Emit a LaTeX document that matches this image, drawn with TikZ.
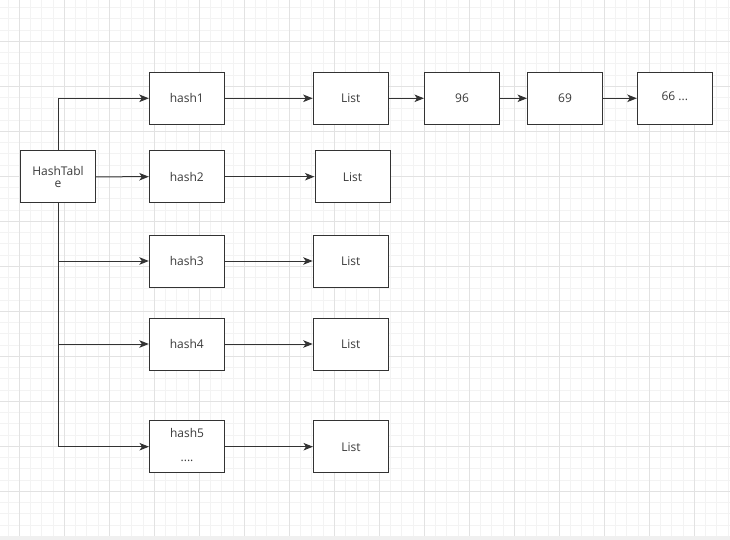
\documentclass[tikz,border=0pt]{standalone}
\usepackage{fontspec}
\setmainfont{Open Sans}
\usetikzlibrary{arrows.meta}
\definecolor{ink}{HTML}{333333}
\definecolor{txt}{HTML}{3A3A3A}
\definecolor{gridminor}{HTML}{F3F3F3}
\definecolor{gridmajor}{HTML}{E2E2E2}
\definecolor{strip}{HTML}{F0F0F0}
\tikzset{
  box/.style={draw=ink, line width=1pt, fill=white, minimum width=75pt, minimum height=52pt, inner sep=0pt, text=txt, font=\fontsize{12}{14}\selectfont, align=center},
  conn/.style={draw=ink, line width=1pt, -{Stealth[length=9.5pt,width=7.5pt,inset=2.5pt]}}
}
\begin{document}
\begin{tikzpicture}[x=1pt,y=-1pt]
\useasboundingbox (0,0) rectangle (730,540);
\fill[white] (0,0) rectangle (730,540);
% grid
\foreach \i in {0,...,64} {
  \pgfmathsetmacro{\xx}{8.05+11.25*\i}
  \draw[gridminor, line width=1pt] (\xx,0) -- (\xx,535.5);
}
\foreach \i in {0,...,47} {
  \pgfmathsetmacro{\yy}{7.7+11.25*\i}
  \draw[gridminor, line width=1pt] (0,\yy) -- (730,\yy);
}
\foreach \i in {0,...,16} {
  \pgfmathsetmacro{\xx}{19.3+45*\i}
  \draw[gridmajor, line width=1pt] (\xx,0) -- (\xx,535.5);
}
\foreach \i in {0,...,11} {
  \pgfmathsetmacro{\yy}{41.3+45*\i}
  \draw[gridmajor, line width=1pt] (0,\yy) -- (730,\yy);
}
\fill[strip] (0,535.5) rectangle (730,540);

% nodes
\node[box] (ht) at (58,176.8) {HashTabl\\[-2pt]e};
\node[box] (h1) at (186.8,98.3) {hash1};
\node[box] (h2) at (186.8,176.7) {hash2};
\node[box] (h3) at (186.8,261) {hash3};
\node[box] (h4) at (186.8,344) {hash4};
\node[box] (h5) at (187,446.7) {\raisebox{4pt}{\begin{tabular}{@{}c@{}}hash5\\[10pt]....\end{tabular}}};
\node[box] (l1) at (350.7,98.3) {List};
\node[box] (l2) at (352.5,176.7) {List};
\node[box] (l3) at (350.7,261) {List};
\node[box] (l4) at (350.7,344) {List};
\node[box] (l5) at (351,446.7) {List};
\node[box] (n96) at (462,98.3) {96};
\node[box] (n69) at (565,98.3) {69};
\node[box] (n66) at (674.8,98.3) {\raisebox{5pt}{66 ...}};

% connectors
\draw[conn] (ht.north) |- (h1.west);
\draw[conn] (ht.east) -- (h2.west);
\draw[conn] (ht.south) |- (h3.west);
\draw[conn] (ht.south) |- (h4.west);
\draw[conn] (ht.south) |- (h5.west);
\draw[conn] (h1) -- (l1);
\draw[conn] (h2) -- (l2);
\draw[conn] (h3) -- (l3);
\draw[conn] (h4) -- (l4);
\draw[conn] (h5) -- (l5);
\draw[conn] (l1) -- (n96);
\draw[conn] (n96) -- (n69);
\draw[conn] (n69) -- (n66);
\end{tikzpicture}
\end{document}
